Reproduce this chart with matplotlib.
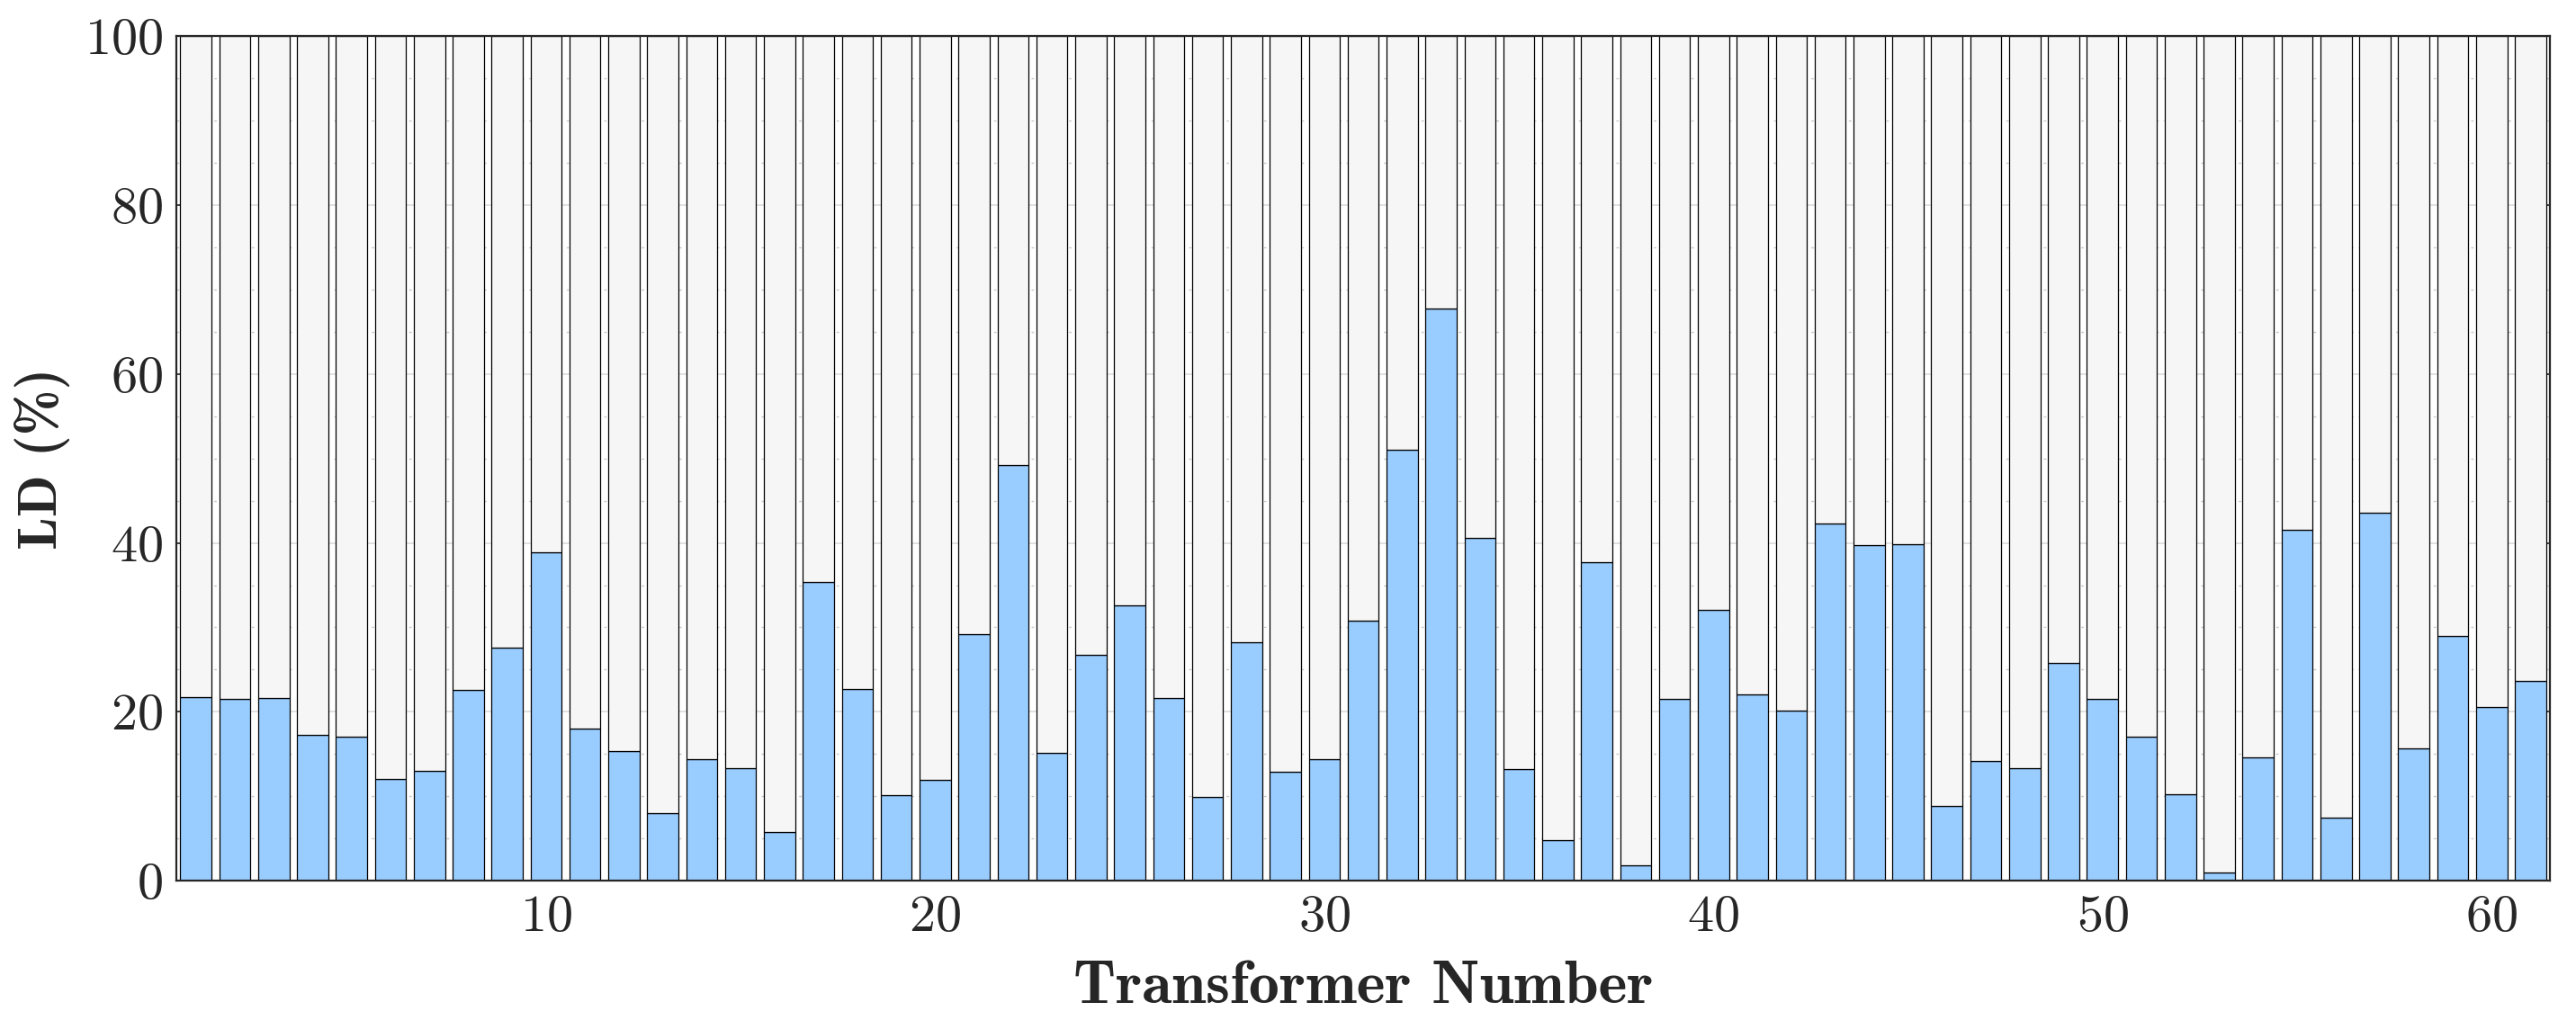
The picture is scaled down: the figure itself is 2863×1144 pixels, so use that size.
import numpy as np
import matplotlib
matplotlib.use("Agg")
import matplotlib.pyplot as plt
from matplotlib.ticker import MultipleLocator

plt.rcParams['font.family'] = 'serif'
plt.rcParams['font.serif'] = ['cmr10', 'DejaVu Serif']
plt.rcParams['mathtext.fontset'] = 'cm'
plt.rcParams['axes.formatter.use_mathtext'] = True

# LD values per transformer (%)
transformers = np.arange(1, 62)
ld = [21.7, 21.5, 21.6, 17.3, 17.05, 12.1, 13.0, 22.6, 27.6, 38.9,
      18.0, 15.4, 8.0, 14.35, 13.3, 5.8, 35.4, 22.7, 10.1, 12.0,
      29.2, 49.25, 15.1, 26.7, 32.6, 21.6, 9.9, 28.2, 12.9, 14.35,
      30.8, 51.0, 67.7, 40.6, 13.2, 4.8, 37.7, 1.8, 21.5, 32.1,
      22.1, 20.2, 42.3, 39.75, 39.85, 8.9, 14.2, 13.3, 25.8, 21.5,
      17.05, 10.2, 0.95, 14.6, 41.5, 7.5, 43.6, 15.7, 29.0, 20.6, 23.7]
ld = np.array(ld)
rest = 100 - ld

x_ticks = [10, 20, 30, 40, 50, 60]
y_ticks = [0, 20, 40, 60, 80, 100]

fig = plt.figure(figsize=(28.63, 11.44), dpi=100)
ax = fig.add_axes([0.0685, 0.144, 0.9214, 0.821])

ax.bar(transformers, ld, width=0.8, color='#99CCFF', edgecolor='black', linewidth=0.9, zorder=2)
ax.bar(transformers, rest, bottom=ld, width=0.8, color='#F6F6F6', edgecolor='black', linewidth=0.9, zorder=2)

ax.set_xlim(0.5, 61.5)
ax.set_ylim(0, 100)
ax.set_xticks(x_ticks)
ax.set_yticks(y_ticks)
ax.yaxis.set_minor_locator(MultipleLocator(5))

ax.set_axisbelow(True)
ax.grid(True, which='major', axis='y', color='#dcdcdc', linewidth=1.2, linestyle='-')
ax.grid(True, which='minor', axis='y', color='#c8c8c8', linewidth=1.0, linestyle=(0, (2, 4)))

ax.tick_params(which='major', direction='in', length=10, width=1.2, colors='#262626',
               labelsize=42, top=True, right=True, pad=11)
ax.tick_params(which='minor', length=0)
for s in ax.spines.values():
    s.set_color('#262626')
    s.set_linewidth(1.6)

ax.set_xlabel('Transformer Number', fontfamily='cmb10', fontsize=49, color='#262626', labelpad=16)
ax.set_ylabel('LD (%)', fontfamily='cmb10', fontsize=44, color='#262626', labelpad=11)

fig.savefig('out.png', dpi=100)
